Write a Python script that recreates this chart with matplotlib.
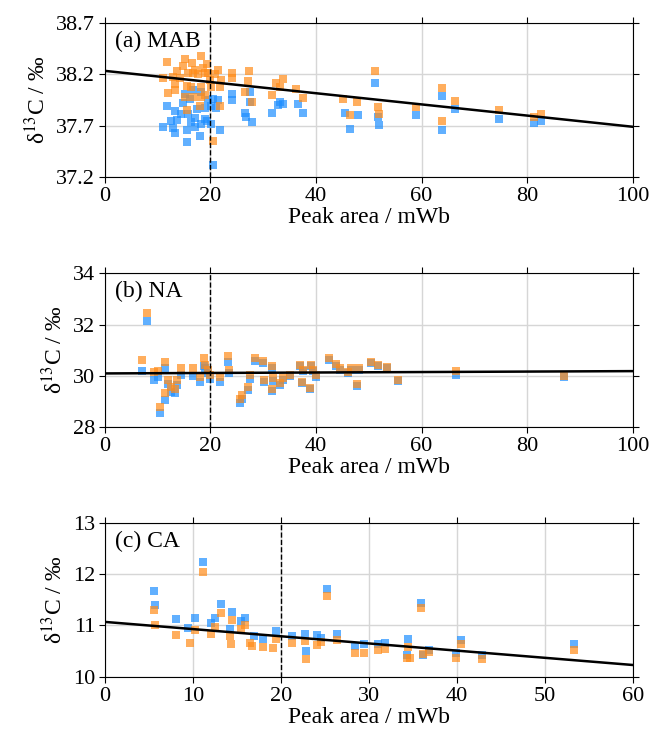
import matplotlib
matplotlib.use("Agg")
import matplotlib.pyplot as plt

plt.rcParams['font.family'] = ['Liberation Serif', 'DejaVu Serif']
plt.rcParams['mathtext.fontset'] = 'stix'
plt.rcParams['font.size'] = 16

# (a) MAB
a_blue_x = [11.7, 11.0, 13.3, 13.6, 12.9, 13.3, 14.5, 15.5, 15.5, 16.4, 17.0, 18.0, 18.3, 18.9, 19.3,
            20.2, 21.8, 20.5, 15.2, 16.1, 16.7, 18.3, 19.6, 20.5, 21.5, 18.9, 20.2, 21.1, 24.0, 24.0,
            14.8, 17.4, 15.8, 17.0, 12.5,
            26.5, 26.8, 27.8, 27.5, 27.5, 33.1, 32.8, 33.8, 31.6, 36.6, 37.6, 45.5, 48.0, 46.4, 51.2,
            51.8, 51.95, 59.0, 63.9, 63.9, 66.4, 74.7, 81.3, 82.7]
a_blue_y = [37.89, 37.69, 37.84, 37.76, 37.68, 37.63, 37.81, 37.66, 37.54, 37.74, 37.69, 37.60, 37.72, 37.77, 37.75,
            37.72, 37.66, 37.32, 38.01, 37.96, 38.05, 38.03, 37.95, 37.96, 37.95, 37.87, 37.89, 37.87, 38.01, 37.95,
            37.92, 37.86, 37.81, 37.78, 37.75,
            37.82, 37.79, 37.74, 37.93, 38.03, 37.93, 37.90, 37.91, 37.82, 37.91, 37.82, 37.82, 37.80, 37.67, 38.12,
            37.79, 37.71, 37.80, 37.99, 37.66, 37.86, 37.77, 37.73, 37.75]
a_orange_x = [11.7, 15.2, 18.2, 16.5, 14.8, 13.6, 12.9, 11.0, 17.0, 18.6, 19.6, 20.8, 21.5, 17.7, 19.0,
              15.8, 16.7, 14.2, 13.3, 13.3, 15.5, 16.4, 18.3, 20.2, 21.8, 15.2, 16.7, 18.3, 19.0, 15.5,
              18.0, 21.8, 20.5, 24.0, 24.0, 20.0, 19.3, 22.0, 12.0,
              27.3, 27.1, 26.5, 27.8, 32.5, 33.8, 33.1, 31.6, 36.3, 37.6, 45.1, 47.7, 46.4, 51.2, 51.8,
              51.95, 59.0, 63.9, 63.9, 66.4, 74.7, 81.3, 82.7]
a_orange_y = [38.32, 38.35, 38.38, 38.31, 38.28, 38.23, 38.18, 38.17, 38.24, 38.26, 38.21, 38.20, 38.24, 38.20, 38.21,
              38.21, 38.21, 38.17, 38.11, 38.05, 38.09, 38.08, 38.08, 38.08, 38.08, 37.98, 37.98, 37.98, 38.00, 37.85,
              37.89, 37.89, 37.55, 38.21, 38.17, 38.15, 38.30, 38.15, 38.02,
              38.23, 38.14, 38.03, 37.93, 38.12, 38.16, 38.08, 38.00, 38.06, 37.97, 37.96, 37.93, 37.80, 38.23, 37.885,
              37.81, 37.885, 38.07, 37.75, 37.94, 37.85, 37.79, 37.81]
a_line = [38.235, 37.69]

# (b) NA
b_x = [8.0, 7.1, 9.3, 10.1, 11.4, 12.0, 12.6, 13.3, 11.4, 10.4, 13.6, 14.5, 16.7, 18.0, 18.8,
       18.9, 19.6, 19.9, 21.8, 23.4, 23.5, 25.6, 26.0, 27.1, 27.5, 28.5, 30.0, 31.6, 30.1, 31.9,
       31.7, 33.1, 33.8, 35.0, 37.0, 37.6, 37.3, 39.1, 39.5, 40.0, 38.8, 42.4, 43.7, 44.6, 46.1,
       46.7, 48.2, 47.8, 50.4, 51.8, 53.4, 55.5, 66.6, 87.0]
b_orange_y = [32.46, 30.63, 30.17, 30.20, 30.56, 29.84, 29.58, 29.50, 29.32, 28.80, 29.84, 30.30, 30.30, 29.97, 30.69,
              30.43, 30.24, 30.04, 29.97, 30.76, 30.24, 29.12, 29.25, 29.58, 30.04, 30.69, 30.59, 30.39, 29.84, 29.91,
              29.48, 29.74, 29.91, 30.04, 30.43, 30.24, 29.78, 30.43, 30.24, 30.04, 29.55, 30.69, 30.47, 30.30, 30.17,
              30.30, 30.30, 29.67, 30.56, 30.43, 30.37, 29.85, 30.21, 30.00]
b_blue_y = [32.13, 30.20, 29.85, 29.95, 30.30, 29.70, 29.38, 29.35, 29.06, 28.54, 29.65, 30.04, 30.00, 29.78, 30.40,
            30.30, 30.10, 29.90, 29.78, 30.56, 30.10, 28.95, 29.10, 29.45, 29.90, 30.60, 30.50, 30.30, 29.75, 29.80,
            29.40, 29.65, 29.85, 30.00, 30.38, 30.18, 29.72, 30.38, 30.18, 29.98, 29.50, 30.62, 30.40, 30.24, 30.12,
            30.25, 30.25, 29.62, 30.52, 30.40, 30.33, 29.80, 30.05, 29.96]
b_line = [30.1, 30.19]

# (c) CA
c_blue_x = [11.2, 5.6, 5.7, 8.1, 10.2, 9.5, 12.5, 13.2, 14.4, 12.1, 14.2, 15.9, 15.5, 16.9, 18.0,
            19.4, 21.3, 22.7, 22.9, 24.1, 24.6, 25.2, 26.4, 28.4, 29.4, 31.1, 31.8, 34.5, 34.3, 36.2,
            36.8, 35.9, 39.9, 40.5, 42.9, 53.3]
c_blue_y = [12.23, 11.67, 11.39, 11.12, 11.15, 10.96, 11.15, 11.41, 11.26, 11.05, 10.93, 11.15, 11.08, 10.79, 10.73,
            10.89, 10.79, 10.84, 10.50, 10.81, 10.76, 11.72, 10.84, 10.60, 10.63, 10.63, 10.65, 10.74, 10.43, 10.43,
            10.53, 11.44, 10.46, 10.72, 10.43, 10.63]
c_orange_x = [11.2, 5.6, 5.7, 8.1, 9.7, 10.2, 12.1, 12.5, 13.2, 14.4, 14.2, 14.3, 15.5, 15.9, 16.5,
              16.7, 18.0, 19.1, 19.4, 21.3, 22.7, 22.9, 24.1, 24.6, 25.2, 26.4, 28.4, 29.4, 31.1, 31.8,
              34.5, 34.3, 34.7, 36.2, 36.8, 35.9, 39.9, 40.5, 42.9, 53.3]
c_orange_y = [12.05, 11.31, 11.00, 10.82, 10.66, 10.92, 10.84, 10.97, 11.24, 11.10, 10.79, 10.63, 10.93, 11.00, 10.66,
              10.60, 10.59, 10.56, 10.73, 10.65, 10.69, 10.35, 10.62, 10.68, 11.57, 10.71, 10.47, 10.47, 10.53, 10.54,
              10.59, 10.37, 10.37, 10.45, 10.48, 11.35, 10.37, 10.63, 10.35, 10.53]
c_line = [11.07, 10.23]

blue = '#1E8FFF'
orange = '#FF8C1A'

panels = [
    ("(a) MAB", a_blue_x, a_blue_y, a_orange_x, a_orange_y, a_line, 100, [0, 20, 40, 60, 80, 100],
     [37.2, 37.7, 38.2, 38.7], 0.763),
    ("(b) NA", b_x, b_blue_y, b_x, b_orange_y, b_line, 100, [0, 20, 40, 60, 80, 100],
     [28, 30, 32, 34], 0.428),
    ("(c) CA", c_blue_x, c_blue_y, c_orange_x, c_orange_y, c_line, 60, [0, 10, 20, 30, 40, 50, 60],
     [10, 11, 12, 13], 0.094),
]

fig = plt.figure(figsize=(6.51, 7.47), dpi=100)
for label, bx, by, ox, oy, line, xmax, xticks, yticks, bottom in panels:
    ax = fig.add_axes([0.161, bottom, 0.811, 0.206])
    ax.grid(True, color='#d6d6d6', lw=1)
    ax.set_axisbelow(True)
    ax.scatter(bx, by, marker='s', s=40, color=blue, alpha=0.7, lw=0, zorder=2)
    ax.scatter(ox, oy, marker='s', s=40, color=orange, alpha=0.7, lw=0, zorder=3)
    ax.plot([0, xmax], line, color='black', lw=1.8, zorder=4)
    ax.axvline(20, color='black', ls='--', lw=1, zorder=4)
    ax.set_xlim(0, xmax)
    ax.set_ylim(yticks[0], yticks[-1])
    ax.set_xticks(xticks)
    ax.set_yticks(yticks)
    if yticks[0] > 30:
        ax.set_yticklabels(["%.1f" % v for v in yticks])
    ax.tick_params(direction='out', top=True, right=True, length=4, pad=3)
    ax.set_xlabel("Peak area / mWb", fontsize=17, labelpad=1)
    ax.set_ylabel("δ$^{13}$C / ‰", fontsize=17, labelpad=4)
    ax.text(0.02, 0.95, label, transform=ax.transAxes, va='top', ha='left', fontsize=17)

fig.savefig("out.png", dpi=100)
